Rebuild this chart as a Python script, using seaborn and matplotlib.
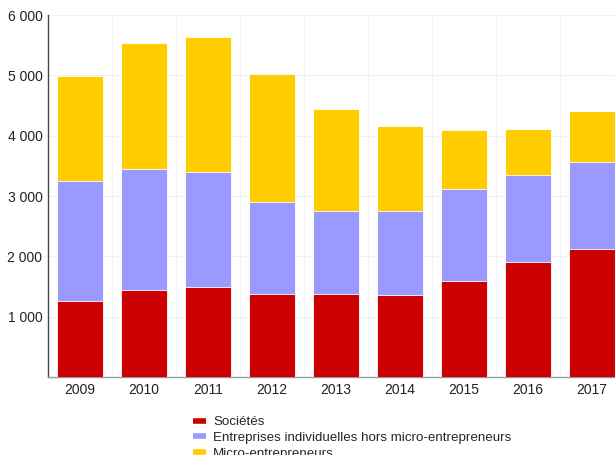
import numpy as np
import pandas as pd
import matplotlib.pyplot as plt
from matplotlib.lines import Line2D
import seaborn as sns

# data (stacked bars)
years = ['2009', '2010', '2011', '2012', '2013', '2014', '2015', '2016', '2017']
societes = [1260, 1440, 1490, 1375, 1375, 1360, 1595, 1910, 2120]
ei_hors_micro = [1990, 2010, 1910, 1525, 1375, 1390, 1515, 1440, 1440]
micro = [1740, 2090, 2240, 2120, 1690, 1410, 985, 760, 850]

labels = ['Sociétés', 'Entreprises individuelles hors micro-entrepreneurs', 'Micro-entrepreneurs']
colors = ['#CC0000', '#9999FF', '#FFCC00']

df = pd.DataFrame({'year': years, 'soc': societes, 'ei': ei_hors_micro, 'micro': micro})
df['lvl1'] = df['soc']
df['lvl2'] = df['soc'] + df['ei']
df['lvl3'] = df['lvl2'] + df['micro']

sns.set_style('white')
plt.rcParams['font.family'] = ['Liberation Sans', 'DejaVu Sans']

fig = plt.figure(figsize=(6.15, 4.55), dpi=100)
ax = fig.add_axes([48 / 615, 78 / 455, 576 / 615, 362 / 455])

# draw totals first, then overlay the lower levels
for col, c in zip(['lvl3', 'lvl2', 'lvl1'], colors[::-1]):
    sns.barplot(data=df, x='year', y=col, color=c, width=0.73, saturation=1,
                edgecolor='white', linewidth=0.6, ax=ax, zorder=3)

ax.set_xlim(-0.5, 8.5)
ax.set_ylim(0, 6000)
ax.set_yticks([1000, 2000, 3000, 4000, 5000, 6000])
ax.set_yticklabels(['1 000', '2 000', '3 000', '4 000', '5 000', '6 000'])
ax.set_xlabel('')
ax.set_ylabel('')

# light grid: horizontal at ticks, vertical between categories
for y in range(1000, 7000, 1000):
    ax.axhline(y, color='#eef2f6', lw=0.8, zorder=0)
for xb in np.arange(0.5, 8.5, 1):
    ax.axvline(xb, color='#eef2f6', lw=0.8, zorder=0)

for s in ['top', 'right']:
    ax.spines[s].set_visible(False)
ax.spines['left'].set_color('#444444')
ax.spines['left'].set_linewidth(1)
ax.spines['bottom'].set_color('#999999')
ax.spines['bottom'].set_linewidth(1)
ax.tick_params(axis='both', length=0, labelsize=10, colors='#222222', pad=4)

handles = [Line2D([0], [0], color=c, lw=4, solid_capstyle='butt') for c in colors]
fig.legend(handles, labels, loc='upper left', bbox_to_anchor=(193 / 615, 1 - 416 / 455),
           frameon=False, fontsize=9.6, handlelength=1.0, handletextpad=0.5,
           labelspacing=0.26, borderaxespad=0, borderpad=0)

fig.savefig('out.png', dpi=100)
